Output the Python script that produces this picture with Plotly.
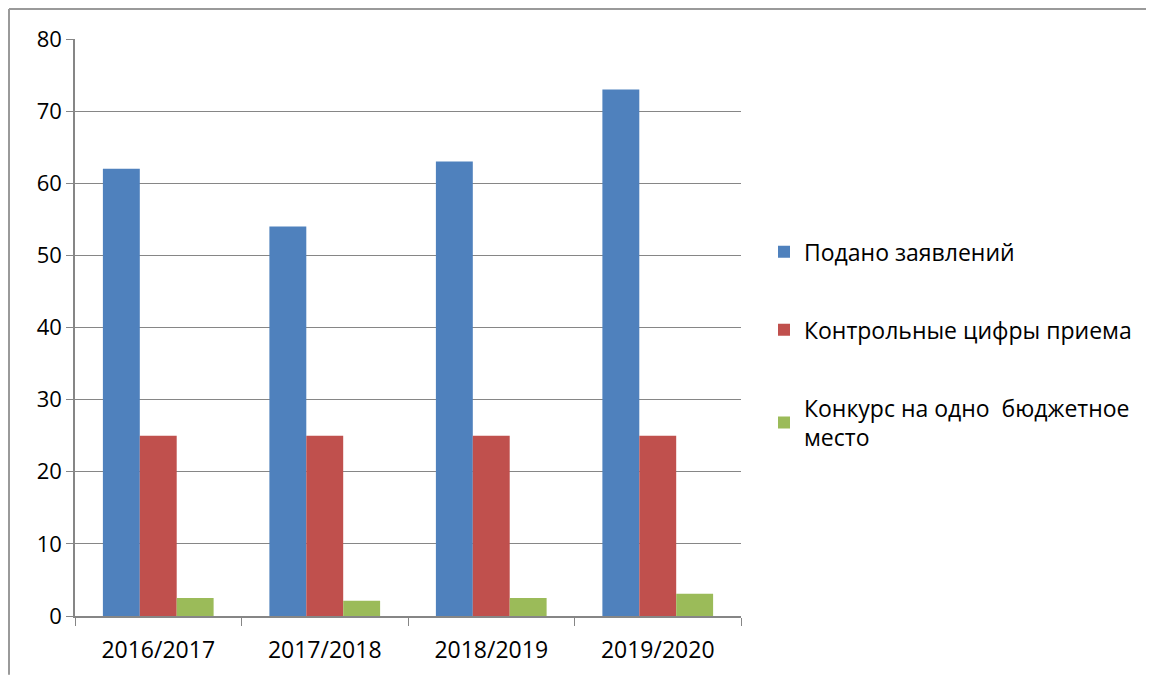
import plotly.graph_objects as go

categories = ["2016/2017", "2017/2018", "2018/2019", "2019/2020"]
applications = [62, 54, 63, 73]
control_figures = [25, 25, 25, 25]
competition = [2.5, 2.1, 2.5, 3.1]

names = ["Подано заявлений", "Контрольные цифры приема", "Конкурс на одно  бюджетное<br>место"]
colors = ["#4F81BD", "#C0504D", "#9BBB59"]
series = [applications, control_figures, competition]

# page body has an 8px margin, so figure is shifted by 8px
OFF = 8
W, H = 1154 - OFF, 677 - OFF
L, R, T, B = 75 - OFF, 741 - OFF, 39 - OFF, 618 - OFF

fig = go.Figure()
for i, (n, c, v) in enumerate(zip(names, colors, series)):
    fig.add_trace(go.Bar(x=categories, y=v, name=n, marker_color=c,
                         marker_line_width=0, legendgroup=str(i)))

pw = R - L
ph = B - T
fig.update_layout(
    width=W, height=H,
    margin=dict(l=L, r=W - R, t=T, b=H - B, pad=0),
    paper_bgcolor="white", plot_bgcolor="white",
    font=dict(family="Open Sans, Liberation Sans, sans-serif", size=23, color="black"),
    barmode="group", bargap=0.335, bargroupgap=0,
    showlegend=True,
    legend=dict(x=(764 - 75) / pw, y=0.47, xanchor="left", yanchor="middle",
                traceorder="grouped", tracegroupgap=45,
                font=dict(size=23), itemwidth=30, bgcolor="rgba(0,0,0,0)"),
    xaxis=dict(showgrid=False, showline=True, linecolor="#868686", linewidth=1.5,
               ticks="outside", ticklen=8, tickcolor="#868686", tickson="boundaries",
               tickfont=dict(size=23), ticklabelstandoff=13),
    yaxis=dict(range=[0, 80], dtick=10, showgrid=True, gridcolor="#868686", gridwidth=1.2,
               showline=True, linecolor="#868686", linewidth=1.5, zeroline=False,
               ticks="outside", ticklen=7, tickcolor="#868686",
               tickfont=dict(size=22), ticklabelstandoff=0),
    shapes=[
        dict(type="line", xref="paper", yref="paper",
             x0=(1 - L) / pw, x1=(W - L) / pw, y0=1 + (T - 1) / ph, y1=1 + (T - 1) / ph,
             line=dict(color="#9a9a9a", width=2)),
        dict(type="line", xref="paper", yref="paper",
             x0=(1 - L) / pw, x1=(1 - L) / pw, y0=1 + (T - 1) / ph, y1=-(H - B) / ph,
             line=dict(color="#9a9a9a", width=2)),
    ],
)

fig.write_html("out.html")
